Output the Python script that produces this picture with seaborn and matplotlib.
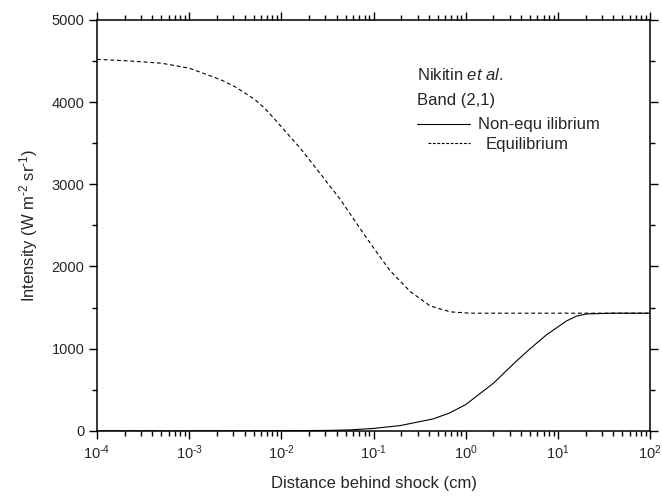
import numpy as np
import pandas as pd
import matplotlib
matplotlib.use("Agg")
import matplotlib.pyplot as plt
from matplotlib.ticker import LogLocator, MultipleLocator, NullFormatter, FuncFormatter
import seaborn as sns

# Distance behind shock (cm) and band (2,1) intensity (W m^-2 sr^-1)
eq_distance = [1e-4, 2.2e-4, 5.0e-4, 1.0e-3, 1.7e-3, 2.3e-3, 3.2e-3, 5.1e-3, 6.6e-3, 8.5e-3,
               0.016, 0.026, 0.044, 0.071, 0.095, 0.117, 0.151, 0.25,
               0.41, 0.68, 1.12, 100.0]
eq_intensity = [4520, 4501, 4473, 4413, 4319, 4262, 4182, 4035, 3925, 3790,
                3440, 3140, 2810, 2466, 2262, 2121, 1950, 1695,
                1521, 1448, 1432, 1432]

neq_distance = [1e-4, 1e-3, 1e-2, 0.032, 0.055, 0.1, 0.195, 0.44, 0.66,
                1.0, 2.0, 3.55, 5.0, 7.5, 12.3, 15.8, 20.4, 40.0, 100.0]
neq_intensity = [0, 0, 2, 6, 12, 30, 65, 145, 215,
                 320, 580, 850, 1000, 1168, 1335, 1395, 1423, 1432, 1432]

x_decades = [1e-4, 1e-3, 1e-2, 1e-1, 1e0, 1e1, 1e2]
series_labels = ["Non-equ ilibrium", "Equilibrium"]

df = pd.concat([
    pd.DataFrame({"x": neq_distance, "y": neq_intensity, "kind": series_labels[0]}),
    pd.DataFrame({"x": eq_distance, "y": eq_intensity, "kind": series_labels[1]}),
])

sns.set_style("ticks")
plt.rcParams["font.family"] = ["Liberation Sans", "DejaVu Sans"]
plt.rcParams["mathtext.fontset"] = "custom"
plt.rcParams["mathtext.rm"] = "Liberation Sans"
plt.rcParams["mathtext.it"] = "Liberation Sans:italic"
plt.rcParams["axes.unicode_minus"] = False

fig = plt.figure(figsize=(6.62, 4.97), dpi=100)
ax = fig.add_axes([0.1465, 0.133, 0.8355, 0.827])

sns.lineplot(data=df, x="x", y="y", hue="kind", style="kind",
             palette={series_labels[0]: "black", series_labels[1]: "black"},
             dashes={series_labels[0]: "", series_labels[1]: (3.5, 2.5)},
             linewidth=0.8, ax=ax, legend=False, estimator=None, sort=True)

ax.set_xscale("log")
ax.set_xlim(1e-4, 1e2)
ax.set_ylim(0, 5000)


def decade_label(value, pos):
    exp = int(round(np.log10(value)))
    text = str(exp).replace("-", "\\text{-}")
    return f"$10^{{{text}}}$"


ax.set_xticks(x_decades)
ax.xaxis.set_major_formatter(FuncFormatter(decade_label))
ax.xaxis.set_minor_locator(LogLocator(base=10, subs=np.arange(2, 10), numticks=20))
ax.xaxis.set_minor_formatter(NullFormatter())
ax.set_xlim(1e-4, 1e2)
ax.yaxis.set_major_locator(MultipleLocator(1000))
ax.yaxis.set_minor_locator(MultipleLocator(500))

for side in ["top", "right", "bottom", "left"]:
    ax.spines[side].set_visible(True)
    ax.spines[side].set_linewidth(1.1)
    ax.spines[side].set_color("black")

ax.tick_params(which="both", direction="out", top=True, right=True,
               labeltop=False, labelright=False, color="black", width=1.0)
ax.tick_params(which="major", length=6, labelsize=10.5, pad=3)
ax.tick_params(which="minor", length=3.5)

ax.set_xlabel("Distance behind shock (cm)", fontsize=12, labelpad=10)
ax.set_ylabel("Intensity (W m$^{\\text{-2}}$ sr$^{\\text{-1}}$)", fontsize=12, labelpad=8)

# Key: reference, band, then the two line styles
ax.text(0.578, 0.866, "Nikitin $\\mathit{et\\ al.}$", transform=ax.transAxes,
        fontsize=12, va="center", ha="left")
ax.text(0.578, 0.805, "Band (2,1)", transform=ax.transAxes,
        fontsize=12, va="center", ha="left")

solid_key = ax.legend([plt.Line2D([], [], color="black", lw=0.8)], [series_labels[0]],
                      loc="center left", bbox_to_anchor=(0.5787, 0.7445),
                      frameon=False, fontsize=12, handlelength=3.2,
                      handletextpad=0.48, borderpad=0, borderaxespad=0)
ax.add_artist(solid_key)
ax.legend([plt.Line2D([], [], color="black", lw=0.8, dashes=(2.5, 1.5))], [series_labels[1]],
          loc="center left", bbox_to_anchor=(0.5986, 0.698),
          frameon=False, fontsize=12, handlelength=2.5,
          handletextpad=0.96, borderpad=0, borderaxespad=0)

fig.savefig("out.png", dpi=100)
